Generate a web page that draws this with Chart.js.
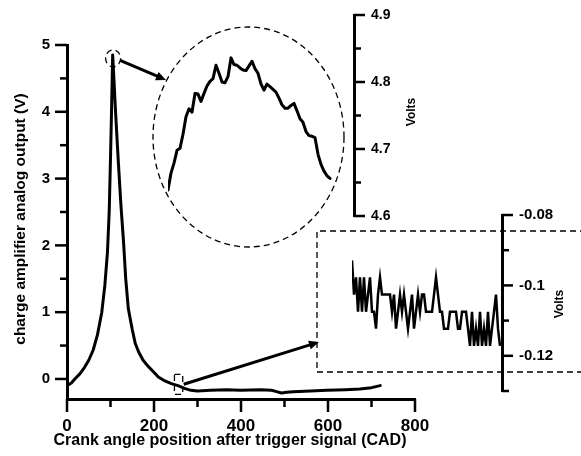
<!DOCTYPE html>
<html>
<head>
<meta charset="utf-8">
<script src="https://cdn.jsdelivr.net/npm/chart.js@4.4.1/dist/chart.umd.min.js"></script>
<style>
  html, body { margin: 0; padding: 0; background: #fff; }
  #wrap { position: relative; width: 581px; height: 456px; overflow: hidden; }
  #wrap canvas { position: absolute; left: 0; top: 0; }
</style>
</head>
<body>
<div id="wrap">
  <canvas id="main" width="581" height="456"></canvas>
  <canvas id="peak" width="581" height="456"></canvas>
  <canvas id="tail" width="581" height="456"></canvas>
  <canvas id="marks" width="581" height="456"></canvas>
</div>
<script>
// ---- Full cycle: charge amplifier output vs crank angle ----
const crankAngle = [0, 10, 18, 30, 40, 50, 60, 70, 80, 87, 93, 97, 100, 103, 105, 107, 112, 118, 124, 130,
  135, 141, 150, 157, 165, 175, 185, 197, 210, 225, 240, 255, 270, 285, 300, 330, 367, 400, 444, 470,
  482, 493, 505, 520, 560, 597, 640, 673, 700, 720];
const chargeOutput = [-0.10, -0.06, 0.0, 0.08, 0.17, 0.28, 0.43, 0.66, 1.0, 1.4, 1.9, 2.5, 3.3, 4.2, 4.85, 4.6, 3.95, 3.25, 2.6, 2.05,
  1.5, 1.05, 0.74, 0.53, 0.4, 0.28, 0.2, 0.12, 0.03, -0.03, -0.07, -0.1, -0.14, -0.17, -0.18, -0.17, -0.16, -0.17, -0.16, -0.17,
  -0.19, -0.21, -0.2, -0.19, -0.18, -0.17, -0.16, -0.15, -0.13, -0.10];
const mainXTicks = [0, 200, 400, 600, 800];
const mainXMinorTicks = [100, 300, 500, 700];
const mainYTicks = [0, 1, 2, 3, 4, 5];
const mainYMinorTicks = [0.5, 1.5, 2.5, 3.5, 4.5];

// ---- Detail around the pressure peak (Volts) ----
const peakVolts = [4.639, 4.664, 4.679, 4.698, 4.701, 4.722, 4.748, 4.760, 4.755, 4.783,
  4.782, 4.771, 4.783, 4.794, 4.801, 4.805, 4.825, 4.813, 4.800, 4.799,
  4.808, 4.836, 4.826, 4.825, 4.821, 4.818, 4.817, 4.824, 4.831, 4.820,
  4.813, 4.797, 4.788, 4.797, 4.793, 4.789, 4.785, 4.776, 4.766, 4.761,
  4.761, 4.765, 4.768, 4.757, 4.745, 4.740, 4.726, 4.720, 4.719, 4.717,
  4.692, 4.677, 4.667, 4.660, 4.656];
const peakTicks = [4.6, 4.7, 4.8, 4.9];
const peakTickLabels = ['4.6', '4.7', '4.8', '4.9'];
const peakMinorTicks = [4.65, 4.75, 4.85];

// ---- Detail of the quantised baseline after expansion (Volts) ----
const tailVolts = [-0.0929, -0.1026, -0.0977, -0.1075, -0.0977, -0.1075, -0.0977, -0.1075, -0.1026, -0.0977,
  -0.1075, -0.1075, -0.1123, -0.1026, -0.0977, -0.1026, -0.1026, -0.1026, -0.1026, -0.1026,
  -0.1075, -0.1026, -0.1123, -0.1075, -0.1026, -0.1075, -0.1026, -0.1075, -0.1123, -0.1075,
  -0.1026, -0.1123, -0.1075, -0.1026, -0.1075, -0.1026, -0.1026, -0.1075, -0.1075, -0.1075,
  -0.1075, -0.1026, -0.0977, -0.1026, -0.1075, -0.1075, -0.1123, -0.1123, -0.1123, -0.1075,
  -0.1075, -0.1075, -0.1075, -0.1123, -0.1123, -0.1075, -0.1075, -0.1075, -0.1123, -0.1172,
  -0.1075, -0.1172, -0.1123, -0.1172, -0.1075, -0.1172, -0.1123, -0.1172, -0.1075, -0.1172,
  -0.1123, -0.1075, -0.1026, -0.1123, -0.1172];
const tailTicks = [-0.12, -0.1, -0.08];
const tailTickLabels = ['-0.12', '-0.1', '-0.08'];
const tailMinorTicks = [-0.13, -0.11, -0.09];

// ---- Page layout (pixels) ----
const W = 581, H = 456;
const FONT = "'Liberation Sans', Arial, Helvetica, sans-serif";
const AREA = {
  main: { left: 67, top: 45, right: 415, bottom: 399 },
  peak: { left: 168, top: 15, right: 354, bottom: 216 },
  tail: { left: 352, top: 215, right: 502, bottom: 391 }
};
const TICK_W = 2.5;

// Free-standing titles, plus an optional extra drawing step
function decorations(texts, extra) {
  return {
    id: 'decorations',
    afterDraw(chart) {
      const ctx = chart.ctx;
      for (const t of texts) {
        ctx.save();
        ctx.translate(t.x, t.y);
        ctx.rotate(t.rotation || 0);
        ctx.font = t.font;
        ctx.fillStyle = '#000';
        ctx.textAlign = 'center';
        ctx.textBaseline = 'middle';
        ctx.fillText(t.text, 0, 0);
        ctx.restore();
      }
      if (extra) extra(chart);
    }
  };
}

function arrow(ctx, x1, y1, x2, y2) {
  const a = Math.atan2(y2 - y1, x2 - x1);
  const L = 10, hw = 4.5;
  ctx.beginPath();
  ctx.moveTo(x1, y1);
  ctx.lineTo(x2 - L * 0.7 * Math.cos(a), y2 - L * 0.7 * Math.sin(a));
  ctx.lineWidth = 3;
  ctx.stroke();
  ctx.beginPath();
  ctx.moveTo(x2, y2);
  ctx.lineTo(x2 - L * Math.cos(a) + hw * Math.sin(a), y2 - L * Math.sin(a) - hw * Math.cos(a));
  ctx.lineTo(x2 - L * Math.cos(a) - hw * Math.sin(a), y2 - L * Math.sin(a) + hw * Math.cos(a));
  ctx.closePath();
  ctx.fill();
}

// Zoom markers, connecting arrows and the dashed frames of the two detail views
function zoomCallouts(chart) {
  const ctx = chart.ctx, xs = chart.scales.x, ys = chart.scales.y;
  ctx.save();
  ctx.strokeStyle = '#000';
  ctx.fillStyle = '#000';
  ctx.lineWidth = 1.3;
  ctx.setLineDash([6, 4]);

  // marker around the peak
  const pcx = xs.getPixelForValue(106), pcy = ys.getPixelForValue(4.8);
  ctx.beginPath();
  ctx.ellipse(pcx, pcy, 7.5, 8.5, 0, 0, Math.PI * 2);
  ctx.stroke();

  // frame of the peak detail
  ctx.beginPath();
  ctx.ellipse(248.5, 137, 95.5, 110, 0, 0, Math.PI * 2);
  ctx.stroke();

  // marker on the baseline
  const rx1 = xs.getPixelForValue(247), rx2 = xs.getPixelForValue(266);
  const ry1 = ys.getPixelForValue(0.07), ry2 = ys.getPixelForValue(-0.23);
  ctx.strokeRect(rx1, ry1, rx2 - rx1, ry2 - ry1);

  // frame of the baseline detail
  const fx = 317, fy1 = 231, fy2 = 372;
  ctx.beginPath();
  ctx.moveTo(W + 5, fy1); ctx.lineTo(fx, fy1); ctx.lineTo(fx, fy2); ctx.lineTo(W + 5, fy2);
  ctx.stroke();

  ctx.setLineDash([]);
  arrow(ctx, pcx + 7, pcy + 2, 166, 80);
  arrow(ctx, rx2 + 1, (ry1 + ry2) / 2, fx + 2, 342);
  ctx.restore();
}

function fixedWidth(w) { return s => { s.width = w; }; }
function fixedHeight(h) { return s => { s.height = h; }; }
function setTicks(values) { return s => { s.ticks = values.map(v => ({ value: v })); }; }
function labelFor(labels) { return (v, i) => labels[i]; }
const hiddenTicks = { drawOnChartArea: false, drawTicks: true, tickColor: 'rgba(0,0,0,0)' };

// ---- Main chart ----
const mainChart = new Chart(document.getElementById('main'), {
  type: 'line',
  data: {
    datasets: [{
      data: crankAngle.map((a, i) => ({ x: a, y: chargeOutput[i] })),
      borderColor: '#000', borderWidth: 3, pointRadius: 0, tension: 0,
      borderJoinStyle: 'round', borderCapStyle: 'round', fill: false
    }]
  },
  options: {
    responsive: false, devicePixelRatio: 1, animation: false,
    layout: { padding: { left: 0, top: AREA.main.top, right: W - AREA.main.right, bottom: 0 } },
    plugins: { legend: { display: false }, tooltip: { enabled: false } },
    scales: {
      x: {
        type: 'linear', min: 0, max: 800,
        afterFit: fixedHeight(H - AREA.main.bottom),
        afterBuildTicks: setTicks(mainXTicks),
        ticks: { autoSkip: false, maxRotation: 0, padding: 4, color: '#000',
                 font: { family: FONT, size: 17, weight: 'bold' } },
        grid: { ...hiddenTicks, tickLength: 13 },
        border: { color: '#000', width: 3 }
      },
      y: {
        type: 'linear', min: -0.3, max: 5,
        afterFit: fixedWidth(AREA.main.left),
        afterBuildTicks: setTicks(mainYTicks),
        ticks: { autoSkip: false, padding: 5, color: '#000',
                 font: { family: FONT, size: 15, weight: 'bold' } },
        grid: { ...hiddenTicks, tickLength: 12 },
        border: { color: '#000', width: 3 }
      }
    }
  },
  plugins: [decorations(
    [
      { text: 'Crank angle position after trigger signal (CAD)', x: 230, y: 441, font: `bold 16px ${FONT}` },
      { text: 'charge amplifier analog output (V)', x: 21, y: 219, rotation: -Math.PI / 2, font: `bold 15.5px ${FONT}` }
    ],
    zoomCallouts
  )]
});

// ---- Peak detail ----
const peakChart = new Chart(document.getElementById('peak'), {
  type: 'line',
  data: {
    datasets: [{
      data: peakVolts.map((v, i) => ({ x: i, y: v })),
      borderColor: '#000', borderWidth: 3, pointRadius: 0, tension: 0,
      borderJoinStyle: 'round', borderCapStyle: 'round', fill: false
    }]
  },
  options: {
    responsive: false, devicePixelRatio: 1, animation: false,
    layout: { padding: { left: AREA.peak.left, top: AREA.peak.top, right: W - AREA.peak.right - 60, bottom: H - AREA.peak.bottom } },
    plugins: { legend: { display: false }, tooltip: { enabled: false } },
    scales: {
      x: { type: 'linear', min: 0, max: 62, display: false },
      y: {
        type: 'linear', position: 'right', min: 4.6, max: 4.9,
        afterFit: fixedWidth(60),
        afterBuildTicks: setTicks(peakTicks),
        ticks: { autoSkip: false, padding: 6, color: '#000', font: { family: FONT, size: 14, weight: 'bold' },
                 callback: labelFor(peakTickLabels) },
        grid: { ...hiddenTicks, tickLength: 11 },
        border: { color: '#000', width: 3 }
      }
    }
  },
  plugins: [decorations(
    [ { text: 'Volts', x: 412, y: 112, rotation: -Math.PI / 2, font: `bold 12px ${FONT}` } ]
  )]
});

// ---- Baseline detail ----
const tailChart = new Chart(document.getElementById('tail'), {
  type: 'line',
  data: {
    datasets: [{
      data: tailVolts.map((v, i) => ({ x: i, y: v })),
      borderColor: '#000', borderWidth: 2.5, pointRadius: 0, tension: 0,
      borderJoinStyle: 'miter', fill: false
    }]
  },
  options: {
    responsive: false, devicePixelRatio: 1, animation: false,
    layout: { padding: { left: AREA.tail.left, top: AREA.tail.top, right: W - AREA.tail.right - 60, bottom: H - AREA.tail.bottom } },
    plugins: { legend: { display: false }, tooltip: { enabled: false } },
    scales: {
      x: { type: 'linear', min: 0, max: 75, display: false },
      y: {
        type: 'linear', position: 'right', min: -0.13, max: -0.08,
        afterFit: fixedWidth(60),
        afterBuildTicks: setTicks(tailTicks),
        ticks: { autoSkip: false, padding: 6, color: '#000', font: { family: FONT, size: 15, weight: 'bold' },
                 callback: labelFor(tailTickLabels) },
        grid: { ...hiddenTicks, tickLength: 11 },
        border: { color: '#000', width: 3 }
      }
    }
  },
  plugins: [decorations(
    [ { text: 'Volts', x: 560, y: 304, rotation: -Math.PI / 2, font: `bold 12px ${FONT}` } ]
  )]
});

// ---- Tick marks: major and minor lengths, placed through each chart's scales ----
const tickSets = [
  { chart: mainChart, scale: 'y', side: 'left', values: mainYTicks, size: 12 },
  { chart: mainChart, scale: 'y', side: 'left', values: mainYMinorTicks, size: 7 },
  { chart: mainChart, scale: 'x', side: 'bottom', values: mainXTicks, size: 13 },
  { chart: mainChart, scale: 'x', side: 'bottom', values: mainXMinorTicks, size: 8 },
  { chart: peakChart, scale: 'y', side: 'right', values: peakTicks, size: 11 },
  { chart: peakChart, scale: 'y', side: 'right', values: peakMinorTicks, size: 7 },
  { chart: tailChart, scale: 'y', side: 'right', values: tailTicks, size: 11 },
  { chart: tailChart, scale: 'y', side: 'right', values: tailMinorTicks, size: 7 }
];
function drawTickMarks() {
  const ctx = document.getElementById('marks').getContext('2d');
  ctx.clearRect(0, 0, W, H);
  ctx.fillStyle = '#000';
  for (const t of tickSets) {
    const s = t.chart.scales[t.scale];
    for (const v of t.values) {
      const p = s.getPixelForValue(v);
      if (t.side === 'left') ctx.fillRect(s.right - t.size, p - TICK_W / 2, t.size, TICK_W);
      else if (t.side === 'right') ctx.fillRect(s.left, p - TICK_W / 2, t.size, TICK_W);
      else ctx.fillRect(p - TICK_W / 2, s.top, TICK_W, t.size);
    }
  }
}
drawTickMarks();
</script>
</body>
</html>
